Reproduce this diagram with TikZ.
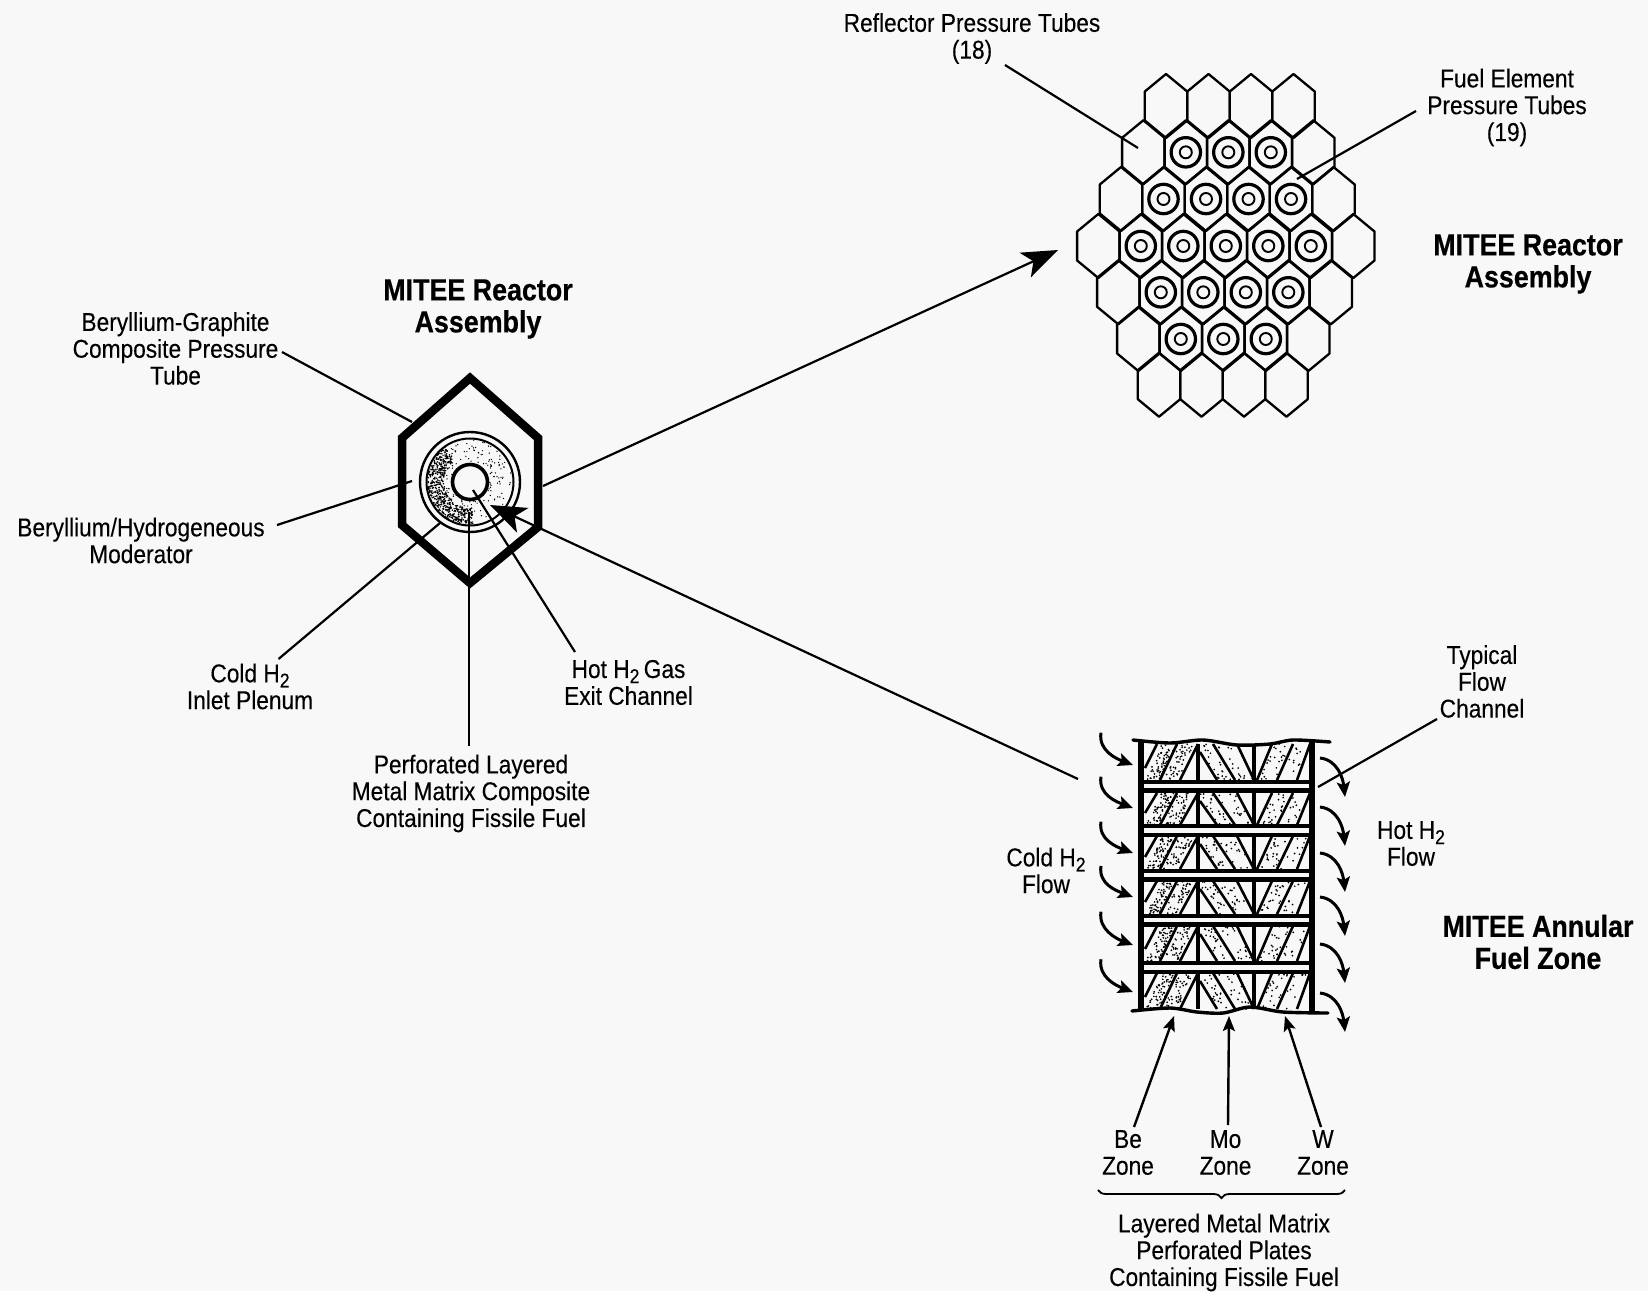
\documentclass[tikz,border=0pt]{standalone}
\usepackage{fontspec}
\setmainfont[FakeStretch=0.88, FakeBold=0.2, BoldFeatures={FakeBold=0.5}]{Liberation Sans}
\usetikzlibrary{arrows.meta,decorations.pathreplacing}
\definecolor{paper}{HTML}{F8F8F8}
\newcommand*{\Htwo}{H\raisebox{-0.2em}{\fontsize{20}{20}\selectfont 2}}
\newcommand*{\hexcell}[2]{\draw[hexline] (#1,#2) ++(0,-32) -- ++(21.2,17.5) -- ++(0,29) -- ++(-21.2,17.5) -- ++(-21.2,-17.5) -- ++(0,-29) -- cycle;}
\tikzset{
  hexline/.style={line width=2.3pt, line join=round},
  leadline/.style={line width=2.2pt},
  bigarrow/.style={line width=2.2pt, -{Stealth[length=36pt, width=27pt, inset=9pt]}},
  flowarrow/.style={line width=3pt, -{Stealth[length=15pt, width=13pt, inset=3pt]}},
  upfarrow/.style={line width=2.4pt, -{Stealth[length=15pt, width=12pt, inset=3pt]}},
  diag/.style={line width=2.6pt},
  wavy/.style={line width=3.4pt, line cap=round},
  label/.style={align=center, inner sep=0pt, yshift=-2.5pt, font=\fontsize{25.8}{26.8}\selectfont},
  title/.style={align=center, inner sep=0pt, yshift=-3pt, font=\fontsize{30.5}{32}\selectfont\bfseries},
}

\begin{document}
\begin{tikzpicture}[x=1pt, y=-1pt]
  \useasboundingbox (0,0) rectangle (1648,1291);
  \fill[paper] (0,0) rectangle (1648,1291);

  % core map
  \foreach \y/\xa/\n in {106/1166/3, 152.3/1143.3/4, 199/1121/5, 246/1098.3/6, 292.3/1118.3/5, 339/1138.3/4, 384.7/1159/3}
  {
    \foreach \i in {0,...,\n}
    {
      \pgfmathsetmacro{\x}{\xa+\i*42.5}
      \hexcell{\x}{\y}
    }
  }
  \foreach \y/\xa/\n in {152.3/1185.8/2, 199/1163.5/3, 246/1140.8/4, 292.3/1160.8/3, 339/1180.8/2}
  {
    \foreach \i in {0,...,\n}
    {
      \pgfmathsetmacro{\x}{\xa+\i*42.5}
      \draw[line width=3.2pt] (\x,\y) circle (14.7pt);
      \draw[line width=1.9pt] (\x,\y) circle (6pt);
    }
  }

  % single assembly
  \draw[line width=8.5pt, miter limit=4] (470,378) -- (538,438) -- (538,527) -- (470,583) -- (402,525) -- (402,438) -- cycle;
  \pgfmathsetseed{4711}
  \foreach \k in {1,...,170}
  {
    \pgfmathsetmacro{\a}{rnd*360}
    \pgfmathsetmacro{\r}{19+rnd*23}
    \fill (470+\r*cos \a,482+\r*sin \a) circle (0.7pt);
  }
  \foreach \k in {1,...,520}
  {
    \pgfmathsetmacro{\a}{85+rnd*150}
    \pgfmathsetmacro{\r}{26+rnd*17}
    \fill (470+\r*cos \a,482+\r*sin \a) circle (0.85pt);
  }
  \draw[line width=2.4pt] (470,482) circle (50pt);
  \draw[line width=2pt] (470,482) circle (43.5pt);
  \draw[line width=3.6pt] (470,482) circle (17.5pt);

  % fuel zone
  \foreach \ya/\yb in {744/780, 793/825, 836/869, 881/914, 926/961, 973/1009}
  {
    \draw[line width=3.2pt] (1198,\ya) -- (1198,\yb) (1254,\ya) -- (1254,\yb);
    \draw[diag] (1145,\yb-12) -- (1157,\ya) (1160,\yb) -- (1177,\ya) (1180,\yb) -- (1198,\ya);
    \draw[diag] (1200,\ya+8) -- (1217,\yb) (1213,\ya) -- (1235,\yb) (1237,\ya) -- (1254,\yb);
    \draw[diag] (1257,\yb) -- (1272,\ya) (1277,\yb) -- (1293,\ya) (1297,\yb) -- (1310,\ya);
    \foreach \xt/\xb/\w/\n in {1162/1146/14/60, 1179/1163/15/42, 1198/1217/14/20, 1216/1236/18/16, 1274/1259/16/22, 1295/1279/14/10}
    {
      \foreach \k in {1,...,\n}
      {
        \pgfmathsetmacro{\v}{rnd}
        \pgfmathsetmacro{\u}{rnd}
        \fill (\xb+\v*\xt-\v*\xb+\u*\w,\yb-\v*\yb+\v*\ya) circle (0.95pt);
      }
    }
  }
  \foreach \y in {786, 830.7, 875, 920, 967.3}
  {
    \draw[line width=13pt] (1144,\y) -- (1310,\y);
    \draw[paper, line width=4.5pt] (1144,\y) -- (1310,\y);
  }
  \draw[line width=6.5pt] (1141,742) -- (1141,1011) (1312,742) -- (1312,1011);
  \draw[wavy] plot[smooth] coordinates {(1133,740) (1170,743) (1203,740) (1237,745) (1270,744) (1293,740) (1330,742)};
  \draw[wavy] plot[smooth] coordinates {(1132,1011) (1170,1008) (1197,1012) (1223,1013) (1250,1007) (1283,1012) (1328,1013)};

  % flow arrows
  \foreach \sy/\ey [count=\i] in {732.7/765, 776.7/808, 821.7/853, 866/897, 911.7/945, 959.3/992}
  {
    \coordinate (cs\i) at (1101,\sy);
    \coordinate (ce\i) at (1133,\ey);
    \draw[flowarrow] (cs\i) .. controls +(-3,18) and +(-16,-6) .. (ce\i);
  }
  \foreach \sy/\ey [count=\i] in {758/797, 807/846, 853/892, 897/936, 944/983, 993/1032}
  {
    \coordinate (hs\i) at (1320,\sy);
    \coordinate (he\i) at (1345,\ey);
    \draw[flowarrow] (hs\i) .. controls +(18,2) and +(-2,-18) .. (he\i);
  }

  % labels
  \node[label] (tubes18) at (972,36) {Reflector Pressure Tubes\\(18)};
  \node[label] (tubes19) at (1507,105) {Fuel Element\\Pressure Tubes\\(19)};
  \node[title] (coretitle) at (1528,261) {MITEE Reactor\\Assembly};
  \node[title] (asmtitle) at (478,306) {MITEE Reactor\\Assembly};
  \node[title] (zonetitle) at (1538,939) {MITEE Annular\\Fuel Zone};
  \node[label] (tube) at (175.5,346) {Beryllium-Graphite\\Composite Pressure\\Tube};
  \node[label] (moderator) at (141,538) {Beryllium/Hydrogeneous\\Moderator};
  \node[label] (plenum) at (250,684) {Cold \Htwo\\Inlet Plenum};
  \node[label] (exit) at (628.5,680) {Hot \Htwo\,Gas\\Exit Channel};
  \node[label] (matrix) at (471,791) {Perforated Layered\\Metal Matrix Composite\\Containing Fissile Fuel};
  \node[label] (channel) at (1482,679) {Typical\\Flow\\Channel};
  \node[label] (hotflow) at (1411,841) {Hot \Htwo\\Flow};
  \node[label] (coldflow) at (1046,868) {Cold \Htwo\\Flow};
  \node[label] (bezone) at (1128,1150) {Be\\Zone};
  \node[label] (mozone) at (1225.5,1150) {Mo\\Zone};
  \node[label] (wzone) at (1323,1150) {W\\Zone};
  \node[label] (plates) at (1224,1250) {Layered Metal Matrix\\Perforated Plates\\Containing Fissile Fuel};

  % leader ends
  \coordinate (l1a) at (282,352);   \coordinate (l1b) at (412,422);
  \coordinate (l2a) at (277,525);   \coordinate (l2b) at (412,481);
  \coordinate (l3a) at (278.5,659); \coordinate (l3b) at (440,523);
  \coordinate (l4a) at (469,746);   \coordinate (l4b) at (469,512);
  \coordinate (l5a) at (575,652);   \coordinate (l5b) at (473,490);
  \coordinate (l6a) at (1005,65);   \coordinate (l6b) at (1138,148);
  \coordinate (l7a) at (1416,111);  \coordinate (l7b) at (1297,179);
  \coordinate (l8a) at (1437,719);  \coordinate (l8b) at (1318,787);
  \coordinate (a1a) at (543,486);   \coordinate (a1b) at (1058,250);
  \coordinate (a2a) at (1078,779);  \coordinate (a2b) at (490,505);
  \coordinate (u1a) at (1134,1127); \coordinate (u1b) at (1174,1016);
  \coordinate (u2a) at (1228,1125); \coordinate (u2b) at (1229,1016);
  \coordinate (u3a) at (1321,1127); \coordinate (u3b) at (1285,1016);

  \foreach \j in {1,...,8}
  {
    \draw[leadline] (l\j a) -- (l\j b);
  }
  \draw[bigarrow] (a1a) -- (a1b);
  \draw[bigarrow] (a2a) -- (a2b);
  \foreach \j in {1,2,3}
  {
    \draw[upfarrow] (u\j a) -- (u\j b);
  }

  \coordinate (bl) at (1098,1190);
  \coordinate (br) at (1345,1190);
  \draw[line width=1.8pt, decorate, decoration={brace, mirror, amplitude=8pt}] (bl) -- (br);
\end{tikzpicture}
\end{document}
